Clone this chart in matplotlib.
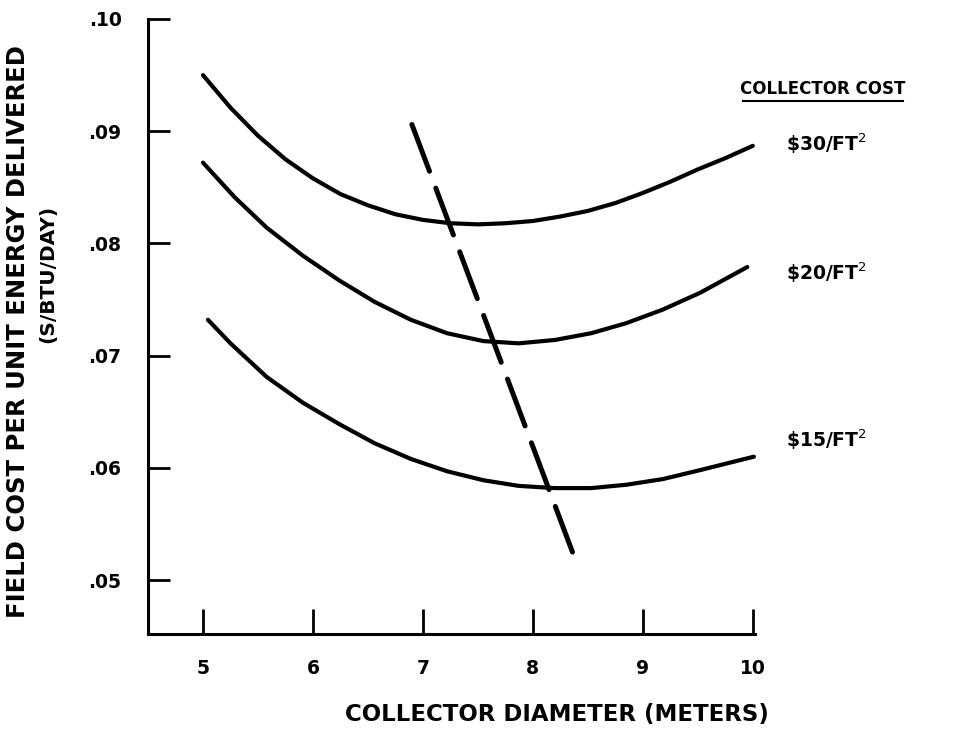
import matplotlib

matplotlib.use("Agg")
import matplotlib.pyplot as plt  # noqa: E402
from matplotlib.lines import Line2D  # noqa: E402

# Collector diameter (m) vs field cost per unit energy delivered ($/BTU/DAY)
diam_30 = [5.0, 5.25, 5.5, 5.75, 6.0, 6.25, 6.5, 6.75, 7.0, 7.25, 7.5, 7.75, 8.0, 8.25,
           8.5, 8.75, 9.0, 9.25, 9.5, 9.75, 10.0]
cost_30 = [0.0950, 0.0921, 0.0896, 0.0875, 0.0858, 0.0844, 0.0834, 0.0826, 0.0821, 0.0818,
           0.0817, 0.0818, 0.0820, 0.0824, 0.0829, 0.0836, 0.0845, 0.0855, 0.0866, 0.0876,
           0.0887]

diam_20 = [5.0, 5.29, 5.58, 5.91, 6.24, 6.56, 6.89, 7.22, 7.55, 7.87, 8.2, 8.53, 8.85,
           9.18, 9.52, 9.95]
cost_20 = [0.0872, 0.0841, 0.0814, 0.0789, 0.0767, 0.0748, 0.0732, 0.0720, 0.0713, 0.0711,
           0.0714, 0.0720, 0.0729, 0.0741, 0.0756, 0.0779]

diam_15 = [5.045, 5.25, 5.58, 5.91, 6.24, 6.56, 6.89, 7.22, 7.55, 7.87, 8.2, 8.53, 8.85,
           9.18, 9.52, 10.01]
cost_15 = [0.0732, 0.0711, 0.0681, 0.0658, 0.0639, 0.0622, 0.0608, 0.0597, 0.0589, 0.0584,
           0.0582, 0.0582, 0.0585, 0.0590, 0.0598, 0.0610]

# locus of minimum cost (dashed)
opt_diam = [6.9, 8.36]
opt_cost = [0.0906, 0.0525]

x_ticks = [5, 6, 7, 8, 9, 10]
y_ticks = [0.05, 0.06, 0.07, 0.08, 0.09, 0.10]
y_tick_labels = [".05", ".06", ".07", ".08", ".09", ".10"]

curve_labels = [r"\$30/FT$^{2}$", r"\$20/FT$^{2}$", r"\$15/FT$^{2}$"]

W, H = 962, 746


def fx(px):
    return px / W


def fy(py):
    return 1 - py / H


fig = plt.figure(figsize=(W / 100, H / 100), dpi=100)
ax = fig.add_axes([fx(148), fy(634), (755 - 148) / W, (634 - 19) / H])

for xs, ys in [(diam_30, cost_30), (diam_20, cost_20), (diam_15, cost_15)]:
    ax.plot(xs, ys, color="black", lw=3.0, solid_capstyle="round",
            solid_joinstyle="round", clip_on=False)

ax.plot(opt_diam, opt_cost, color="black", lw=3.6, dashes=(10, 3.6),
        dash_capstyle="round", clip_on=False)

ax.set_xlim(4.5, 10.02)
ax.set_ylim(0.0452, 0.10)
ax.set_xticks(x_ticks)
ax.set_yticks(y_ticks)
ax.set_yticklabels(y_tick_labels)

for side in ["top", "right"]:
    ax.spines[side].set_visible(False)
for side in ["left", "bottom"]:
    ax.spines[side].set_linewidth(2.2)

ax.tick_params(axis="y", direction="in", length=16, width=2.0, pad=19, labelsize=13.5)
ax.tick_params(axis="x", direction="in", length=18, width=2.0, pad=18, labelsize=13.5)
for lab in ax.get_xticklabels() + ax.get_yticklabels():
    lab.set_fontweight("bold")

# axis titles
fig.text(fx(18), fy(332), "FIELD COST PER UNIT ENERGY DELIVERED", rotation=90,
         ha="center", va="center", fontsize=17.5, fontweight="bold")
fig.text(fx(48), fy(274), "(S/BTU/DAY)", rotation=90, ha="center", va="center",
         fontsize=14.5, fontweight="bold")
fig.text(fx(557), fy(715), "COLLECTOR DIAMETER (METERS)", ha="center", va="center",
         fontsize=16.5, fontweight="bold")

# curve key
fig.text(fx(823), fy(89), "COLLECTOR COST", ha="center", va="center", fontsize=12,
         fontweight="bold")
fig.add_artist(Line2D([fx(743), fx(903)], [fy(101), fy(101)], color="black", lw=1.5))
for lab, py in zip(curve_labels, [144, 273, 440]):
    fig.text(fx(786), fy(py), lab, ha="left", va="center", fontsize=13.5, fontweight="bold")

fig.savefig("out.png", dpi=100)
